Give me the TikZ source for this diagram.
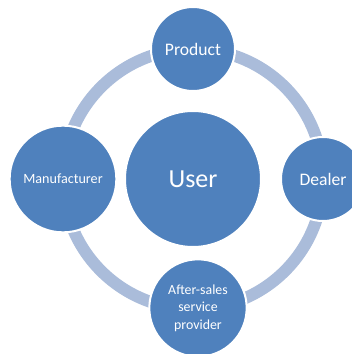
\documentclass[tikz,border=0pt]{standalone}
\usepackage{fontspec}
\setmainfont{Carlito}

\definecolor{bubbleBlue}{HTML}{4F81BD}
\definecolor{ringBlue}{HTML}{AABCDA}

\tikzset{
    bubble/.style={circle, fill=bubbleBlue, draw=white, line width=1.5pt,
        text=white, align=center, inner sep=0pt},
}

\begin{document}
\begin{tikzpicture}[x=0.75pt, y=0.75pt]
    % variables
    \def\ringRadius{130}
    \def\ringWidth{9pt}

    % canvas
    \useasboundingbox (0, 0) rectangle (352, 354);
    \clip (0, 0) rectangle (352, 354);

    % Ring behind the circles
    \coordinate (O) at (193, 175);
    \draw[ringBlue, line width=\ringWidth] (O) circle (\ringRadius);

    % Circles
    \node[bubble, minimum size=102pt, font=\fontsize{19.5}{23}\selectfont] (user) at (O) {User};
    \node[bubble, minimum size=63pt, font=\fontsize{13.2}{16}\selectfont] (product) at (193, 305) {Product};
    \node[bubble, minimum size=63pt, font=\fontsize{13.2}{16}\selectfont] (dealer) at (323, 175) {Dealer};
    \node[bubble, minimum size=80pt, font=\fontsize{10.6}{13}\selectfont] (manufacturer) at (63, 175) {Manufacturer};
    \node[bubble, minimum size=73pt, font=\fontsize{10.4}{13.1}\selectfont] (aftersales) at (198, 46) {After-sales\\service\\provider};
\end{tikzpicture}
\end{document}
